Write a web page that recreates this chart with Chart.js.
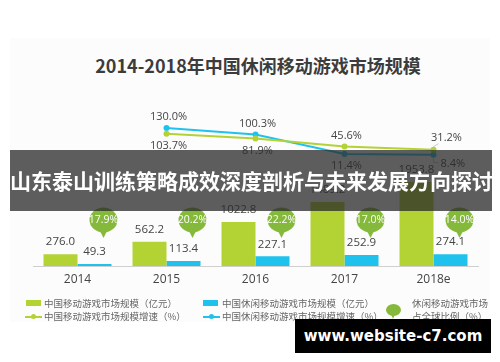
<!DOCTYPE html>
<html>
<head>
<meta charset="utf-8">
<script src="https://cdn.jsdelivr.net/npm/chart.js@4/dist/chart.umd.min.js"></script>
<style>
    html, body { margin: 0; padding: 0; background: #fff; }
    body { width: 500px; height: 362px; position: relative; overflow: hidden; font-family: "Noto Sans CJK SC", "Noto Sans", sans-serif; }
    .panel { position: absolute; left: 10px; top: 38px; width: 480px; height: 284px; background: #fcfcfc; }
    .title { position: absolute; left: 0; width: 516px; top: 52px; text-align: center; font-size: 18px; font-weight: bold; color: #3c3c3c; }
    canvas { position: absolute; left: 0; top: 0; }
    .legend { position: absolute; font-size: 9.5px; color: #666; line-height: 13px; white-space: nowrap; }
    .box { position: absolute; width: 15px; height: 6px; }
    .lineicon { position: absolute; width: 17px; height: 2px; }
    .lineicon i { position: absolute; left: 6px; top: -2px; width: 5px; height: 5px; border-radius: 50%; background: inherit; }
    .bubble { position: absolute; left: 386px; top: 304px; width: 15px; height: 12px; border-radius: 50%; background: #85b93b; }
    .bubble:after { content: ""; position: absolute; left: 5px; top: 10px; border-left: 2.5px solid transparent; border-right: 2.5px solid transparent; border-top: 5px solid #85b93b; }
    .banner { position: absolute; left: 10px; top: 150px; width: 482px; height: 61px; background: rgba(40,40,40,0.75); color: #fff; font-size: 21px; font-weight: bold; line-height: 61px; text-align: center; white-space: nowrap; }
    .mark { position: absolute; left: 295px; top: 319px; width: 196px; height: 34px; background: #000; color: #fff; font-family: "DejaVu Sans", sans-serif; font-size: 15px; font-weight: bold; line-height: 34px; text-align: center; }
</style>
</head>
<body>
<div class="panel"></div>
<div class="title">2014-2018年中国休闲移动游戏市场规模</div>
<canvas id="chart" width="500" height="362"></canvas>

<div class="box" style="left:26px;top:300px;background:#b3d234"></div>
<div class="legend" style="left:44px;top:297px">中国移动游戏市场规模（亿元）</div>
<div class="lineicon" style="left:25px;top:316px;background:#b3d234"><i></i></div>
<div class="legend" style="left:44px;top:310px">中国移动游戏市场规模增速（%）</div>
<div class="box" style="left:203px;top:300px;background:#1fc2ec"></div>
<div class="legend" style="left:222px;top:297px">中国休闲移动游戏市场规模（亿元）</div>
<div class="lineicon" style="left:203px;top:316px;background:#1fc2ec"><i></i></div>
<div class="legend" style="left:222px;top:310px">中国休闲移动游戏市场规模增速（%）</div>
<div class="bubble"></div>
<div class="legend" style="left:412px;top:297px">休闲移动游戏市场<br>占全球比例（%）</div>

<div class="banner">山东泰山训练策略成效深度剖析与未来发展方向探讨</div>
<div class="mark">www.website-c7.com</div>

<script>
const categories = ["2014", "2015", "2016", "2017", "2018e"];
const mobileMarket = [276.0, 562.2, 1022.8, 1489.2, 1953.8];
const casualMarket = [49.3, 113.4, 227.1, 252.9, 274.1];
const mobileGrowth = [null, 103.7, 81.9, 45.6, 31.2];
const casualGrowth = [null, 130.0, 100.3, 11.4, 8.4];
const globalShare = [17.9, 20.2, 22.2, 17.0, 14.0];

// where each growth label sits relative to its point
const mobileLabelPos = [null, "below", "below", "above", "leaderUp"];
const casualLabelPos = [null, "above", "above", "below", "leaderDown"];

const GREEN = "#b3d234";
const BLUE = "#1fc2ec";
const TEXT = "#444";

const labelsPlugin = {
    id: "valueLabels",
    afterDatasetsDraw(chart) {
        const { ctx, chartArea } = chart;
        ctx.save();
        ctx.textAlign = "center";
        ctx.textBaseline = "middle";
        ctx.fillStyle = TEXT;
        ctx.font = "11.5px 'Open Sans', 'Noto Sans', sans-serif";

        // bar values
        [0, 1].forEach((di) => {
            const meta = chart.getDatasetMeta(di);
            const data = chart.data.datasets[di].data;
            meta.data.forEach((bar, i) => {
                ctx.fillText(data[i].toFixed(1), bar.x, bar.y - 12);
            });
        });

        // growth labels
        const drawGrowth = (di, pos) => {
            const meta = chart.getDatasetMeta(di);
            const data = chart.data.datasets[di].data;
            ctx.font = "11px 'Open Sans', 'Noto Sans', sans-serif";
            meta.data.forEach((pt, i) => {
                if (data[i] == null) return;
                const txt = data[i].toFixed(1) + "%";
                const p = pos[i];
                ctx.fillStyle = TEXT;
                if (p === "above") {
                    ctx.fillText(txt, pt.x + 2, pt.y - 11);
                } else if (p === "below") {
                    ctx.fillText(txt, pt.x + 2, pt.y + 12);
                } else if (p === "leaderUp") {
                    ctx.strokeStyle = "#bbb";
                    ctx.lineWidth = 0.8;
                    ctx.beginPath();
                    ctx.moveTo(pt.x, pt.y - 3);
                    ctx.lineTo(pt.x + 5, pt.y - 6);
                    ctx.stroke();
                    ctx.fillText(txt, pt.x + 13, pt.y - 12);
                } else if (p === "leaderDown") {
                    ctx.strokeStyle = "#bbb";
                    ctx.lineWidth = 0.8;
                    ctx.beginPath();
                    ctx.moveTo(pt.x, pt.y + 3);
                    ctx.lineTo(pt.x, pt.y + 8);
                    ctx.lineTo(pt.x + 5, pt.y + 8);
                    ctx.stroke();
                    ctx.textAlign = "left";
                    ctx.fillText(txt, pt.x + 7, pt.y + 9);
                    ctx.textAlign = "center";
                }
            });
        };
        drawGrowth(2, mobileLabelPos);
        drawGrowth(3, casualLabelPos);

        // share bubbles above the casual bars
        const blueMeta = chart.getDatasetMeta(1);
        const cy = chartArea.bottom - 46;
        blueMeta.data.forEach((bar, i) => {
            const cx = bar.x + 9;
            ctx.fillStyle = "#85b93b";
            ctx.beginPath();
            ctx.ellipse(cx, cy, 14, 12.5, 0, 0, Math.PI * 2);
            ctx.fill();
            ctx.beginPath();
            ctx.moveTo(cx - 4, cy + 10);
            ctx.lineTo(cx + 4, cy + 10);
            ctx.lineTo(cx, cy + 18);
            ctx.closePath();
            ctx.fill();
            ctx.fillStyle = "#fff";
            ctx.font = "10.5px 'Open Sans', 'Noto Sans', sans-serif";
            ctx.fillText(globalShare[i].toFixed(1) + "%", cx, cy);
        });
        ctx.restore();
    },
};

new Chart(document.getElementById("chart"), {
    data: {
        labels: categories,
        datasets: [
            {
                type: "bar",
                label: "中国移动游戏市场规模（亿元）",
                data: mobileMarket,
                backgroundColor: GREEN,
                yAxisID: "y",
                categoryPercentage: 0.764,
                barPercentage: 1,
                order: 2,
            },
            {
                type: "bar",
                label: "中国休闲移动游戏市场规模（亿元）",
                data: casualMarket,
                backgroundColor: BLUE,
                yAxisID: "y",
                categoryPercentage: 0.764,
                barPercentage: 1,
                order: 2,
            },
            {
                type: "line",
                label: "中国移动游戏市场规模增速（%）",
                data: mobileGrowth,
                borderColor: GREEN,
                backgroundColor: GREEN,
                borderWidth: 2,
                pointRadius: 3,
                pointBorderWidth: 0,
                tension: 0,
                yAxisID: "y2",
                order: 1,
            },
            {
                type: "line",
                label: "中国休闲移动游戏市场规模增速（%）",
                data: casualGrowth,
                borderColor: BLUE,
                backgroundColor: BLUE,
                borderWidth: 2,
                pointRadius: 3,
                pointBorderWidth: 0,
                tension: 0,
                yAxisID: "y2",
                order: 1,
            },
        ],
    },
    options: {
        responsive: false,
        animation: false,
        layout: { padding: { left: 33, right: 22, top: 100, bottom: 0 } },
        plugins: {
            legend: { display: false },
            tooltip: { enabled: false },
        },
        scales: {
            x: {
                grid: { display: false, drawTicks: false },
                border: { display: true, color: "#cfcfcf", width: 1 },
                ticks: { color: TEXT, font: { size: 12, family: "'Open Sans', 'Noto Sans', sans-serif" }, padding: 6 },
                afterFit: (scale) => { scale.height = 96; },
            },
            y: { display: false, min: 0, max: 3860 },
            y2: { display: false, min: -500, max: 258 },
        },
    },
    plugins: [labelsPlugin],
});
</script>
</body>
</html>
